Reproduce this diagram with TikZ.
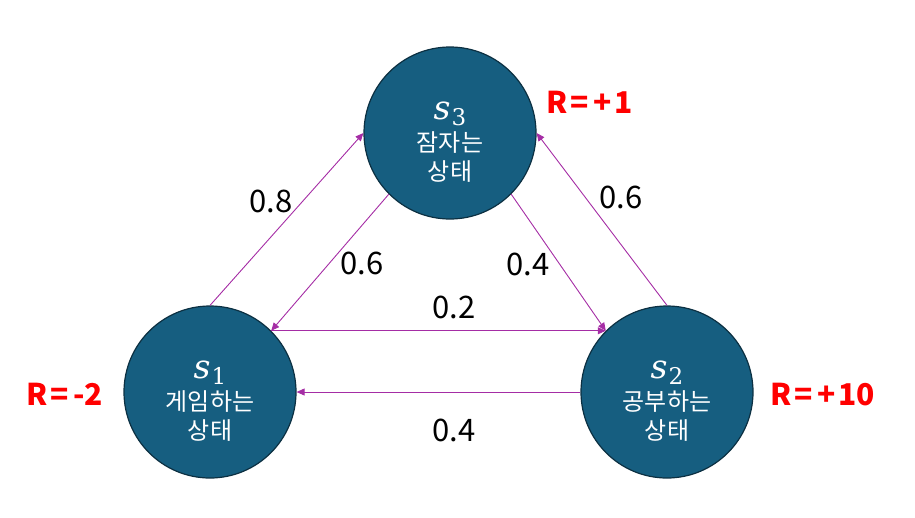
\documentclass[tikz,border=0pt]{standalone}
\usepackage{fontspec}
\newfontfamily\kr{Noto Sans CJK KR}
\newfontfamily\symfnt{DejaVu Serif}
\usetikzlibrary{arrows.meta}
\definecolor{nodefill}{RGB}{22,94,128}
\definecolor{nodeedge}{RGB}{12,48,66}
\definecolor{arr}{RGB}{165,45,165}
\definecolor{rred}{RGB}{255,0,0}
\newcommand{\stsym}[1]{{\itshape s}\kern1pt\raisebox{-6pt}{\fontsize{23}{23}\selectfont #1}}
\newcommand{\rwd}[3]{R\kern2pt=\kern5pt#1\kern#3#2}
\begin{document}
\begin{tikzpicture}[x=1pt,y=-1pt,
  state/.style={circle,fill=nodefill,draw=nodeedge,line width=1.2pt,minimum size=172pt,inner sep=0pt},
  sym/.style={anchor=base,text=white,inner sep=0pt,font=\symfnt\fontsize{33}{33}\selectfont},
  kor/.style={anchor=base,text=white,inner sep=0pt,font=\kr\fontsize{24}{24}\selectfont},
  prob/.style={anchor=base,inner sep=0pt,font=\kr\fontsize{31}{31}\selectfont},
  rew/.style={anchor=base,text=rred,inner sep=0pt,font=\kr\bfseries\fontsize{30}{30}\selectfont},
  tr/.style={draw=arr,line width=0.9pt,-{Triangle[length=8pt,width=7pt]}}]
\useasboundingbox (0,0) rectangle (915,517);
\node[state] (s3) at (450,133) {};
\node[state] (s1) at (210,392) {};
\node[state] (s2) at (667,392) {};
% texts in circles
\node[sym] (s3m) at (450,119) {\stsym{3}};
\node[kor] (s3a) at (450,151) {잠자는};
\node[kor] (s3b) at (450,180) {상태};
\node[sym] (s1m) at (210,378) {\stsym{1}};
\node[kor] (s1a) at (210,410) {게임하는};
\node[kor] (s1b) at (210,439) {상태};
\node[sym] (s2m) at (667,378) {\stsym{2}};
\node[kor] (s2a) at (667,410) {공부하는};
\node[kor] (s2b) at (667,439) {상태};
% transitions
\draw[tr] (s1.north) -- (s3.west);
\draw[tr] (s3.south west) -- (s1.north east);
\draw[tr] (s1.north east) -- (s2.north west);
\draw[tr] (s3.south east) -- (s2.north west);
\draw[tr] (s2.north) -- (s3.east);
\draw[tr] (s2.west) -- (s1.east);
% probabilities
\node[prob] (p13) at (271,212) {0.8};
\node[prob] (p31) at (362,274) {0.6};
\node[prob] (p12) at (454,318) {0.2};
\node[prob] (p32) at (528,275) {0.4};
\node[prob] (p23) at (621,208) {0.6};
\node[prob] (p21) at (454,441) {0.4};
% rewards
\node[rew] (r3) at (590,113) {\rwd{+}{1}{3pt}};
\node[rew] (r1) at (65,405) {\rwd{-}{2}{0pt}};
\node[rew] (r2) at (823,405) {\rwd{+}{10}{3pt}};
\end{tikzpicture}
\end{document}
